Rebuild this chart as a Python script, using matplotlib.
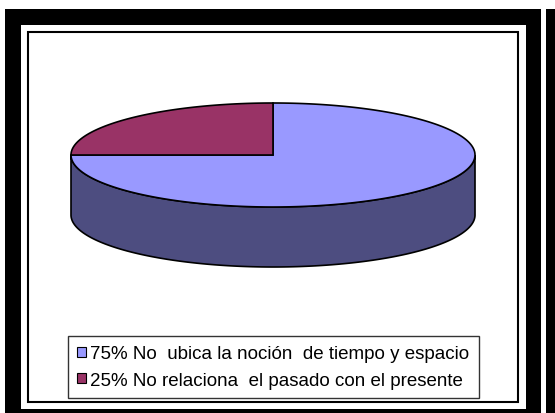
import numpy as np
import matplotlib.pyplot as plt
from matplotlib.patches import Rectangle, Polygon, Patch

# data
labels = ['75% No  ubica la noción  de tiempo y espacio',
          '25% No relaciona  el pasado con el presente']
values = [75, 25]
colors = ['#9999FF', '#993366']
side_color = '#4D4D80'

plt.rcParams['font.family'] = ['Liberation Sans', 'DejaVu Sans']

fig = plt.figure(figsize=(5.55, 4.14), dpi=100)
ax = fig.add_axes([0, 0, 1, 1])
ax.set_xlim(0, 555)
ax.set_ylim(414, 0)
ax.axis('off')

# frames
ax.add_patch(Rectangle((5, 10), 536, 420, facecolor='black', edgecolor='none'))
ax.add_patch(Rectangle((21, 26), 505, 384, facecolor='white', edgecolor='none'))
ax.add_patch(Rectangle((546, 10), 12, 410, facecolor='black', edgecolor='none'))
ax.add_patch(Rectangle((28, 33), 490, 370, facecolor='white', edgecolor='black', lw=1.5))

# 3d pie geometry
cx, cy, a, b, depth = 273, 156, 202, 52, 60

def ell(t, dy=0):
    return np.column_stack([cx + a * np.cos(t), cy - b * np.sin(t) + dy])

# side (front half)
t = np.linspace(np.pi, 2 * np.pi, 200)
side = np.vstack([ell(t), ell(t[::-1], depth)])
ax.add_patch(Polygon(side, closed=True, facecolor=side_color, edgecolor='black', lw=1.2))

# top face, clockwise from 12 o'clock
start = np.pi / 2
total = sum(values)
for v, c in zip(values, colors):
    sweep = 2 * np.pi * v / total
    tt = np.linspace(start, start - sweep, 300)
    pts = np.vstack([[cx, cy], ell(tt)])
    ax.add_patch(Polygon(pts, closed=True, facecolor=c, edgecolor='black', lw=1.2, joinstyle='miter'))
    start -= sweep

handles = [Patch(facecolor=c, edgecolor='black', lw=0.8) for c in colors]
ax.legend(handles, labels, loc='upper left', bbox_to_anchor=(68, 337),
          bbox_transform=ax.transData, fontsize=13.5, frameon=True, fancybox=False,
          edgecolor='black', handlelength=0.45, handleheight=0.45, handletextpad=0.25,
          borderpad=0.5, labelspacing=0.5, borderaxespad=0)

fig.savefig('out.png', dpi=100)
